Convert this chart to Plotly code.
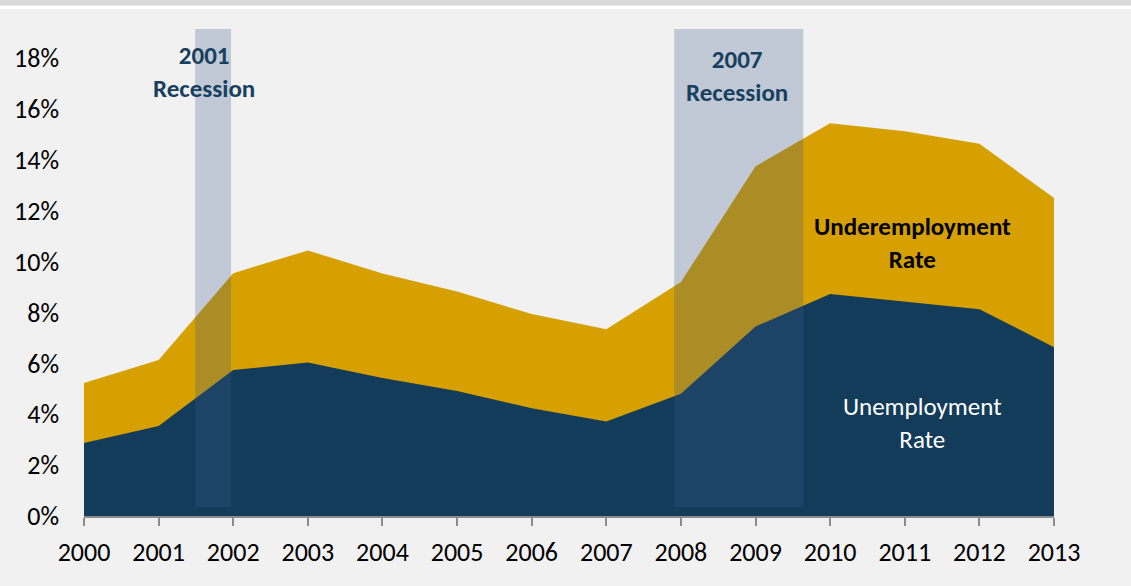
import plotly.graph_objects as go

years = list(range(2000, 2014))
underemployment = [5.23, 6.13, 9.55, 10.44, 9.54, 8.83, 7.94, 7.34, 9.2, 13.75, 15.44, 15.13, 14.64, 12.5]
unemployment = [2.87, 3.54, 5.74, 6.04, 5.43, 4.92, 4.24, 3.72, 4.81, 7.45, 8.73, 8.43, 8.13, 6.64]
# (label, start, end, label x, label y)
recessions = [("2001<br>Recession", 2001.49, 2001.97, 2001.61, 17.44),
              ("2007<br>Recession", 2007.91, 2009.64, 2008.745, 17.32)]
y_ticks = [0, 2, 4, 6, 8, 10, 12, 14, 16, 18]

GOLD = "#d6a000"
NAVY = "#123c5a"
BG = "#f1f1f1"
FONT = "Carlito, Lato, sans-serif"

fig = go.Figure()
fig.add_trace(go.Scatter(x=years, y=underemployment, mode="lines", fill="tozeroy",
                         line=dict(width=0, color=GOLD), fillcolor=GOLD,
                         name="Underemployment Rate", hoverinfo="skip"))
fig.add_trace(go.Scatter(x=years, y=unemployment, mode="lines", fill="tozeroy",
                         line=dict(width=0, color=NAVY), fillcolor=NAVY,
                         name="Unemployment Rate", hoverinfo="skip"))

shapes = [
    # header strip
    dict(type="rect", xref="paper", yref="paper", x0=-0.2, x1=1.2, y0=1.0475, y1=1.2,
         fillcolor="#d9d9d9", line=dict(width=0), layer="below"),
    dict(type="rect", xref="paper", yref="paper", x0=-0.2, x1=1.2, y0=1.041, y1=1.0475,
         fillcolor="#ffffff", line=dict(width=0), layer="below"),
]
annotations = []
for label, x0, x1, xlab, ylab in recessions:
    shapes.append(dict(type="rect", xref="x", yref="y", x0=x0, x1=x1, y0=0.35, y1=19.15,
                       fillcolor="rgb(58,92,137)", opacity=0.27, line=dict(width=0),
                       layer="above"))
    annotations.append(dict(x=xlab, y=ylab, xref="x", yref="y", text=label,
                            showarrow=False, yanchor="middle",
                            font=dict(family=FONT, size=25, color="#17405f", weight="bold")))

annotations += [
    dict(x=2011.1, y=10.74, xref="x", yref="y", text="Underemployment<br>Rate",
         showarrow=False, font=dict(family=FONT, size=25, color="#000000", weight="bold")),
    dict(x=2011.24, y=3.66, xref="x", yref="y", text="Unemployment<br>Rate",
         showarrow=False, font=dict(family=FONT, size=25, color="#ffffff")),
    dict(x=2013.2, y=13.53, xref="x", yref="y", text="12.5%",
         showarrow=False, font=dict(family=FONT, size=25, color="#000000", weight="bold")),
]

fig.update_layout(
    width=1131, height=586,
    margin=dict(l=84, r=77, t=29, b=70),
    paper_bgcolor=BG, plot_bgcolor=BG,
    showlegend=False,
    shapes=shapes, annotations=annotations,
    font=dict(family=FONT, size=26, color="#000000"),
)
fig.update_xaxes(range=[2000, 2013], tickvals=years, ticktext=[str(y) for y in years],
                 showgrid=False, zeroline=False, showline=True, linecolor="#8c8c8c",
                 linewidth=2, ticks="outside", ticklen=8, tickwidth=2, tickcolor="#8c8c8c",
                 ticklabelstandoff=4,
                 tickfont=dict(family=FONT, size=26, color="#000000"))
fig.update_yaxes(range=[0, 19.15], tickvals=y_ticks, ticktext=[f"{v}%" for v in y_ticks],
                 showgrid=False, zeroline=False, showline=False, ticks="",
                 ticklabelstandoff=24,
                 tickfont=dict(family=FONT, size=26, color="#000000"))

fig.write_html("out.html")
